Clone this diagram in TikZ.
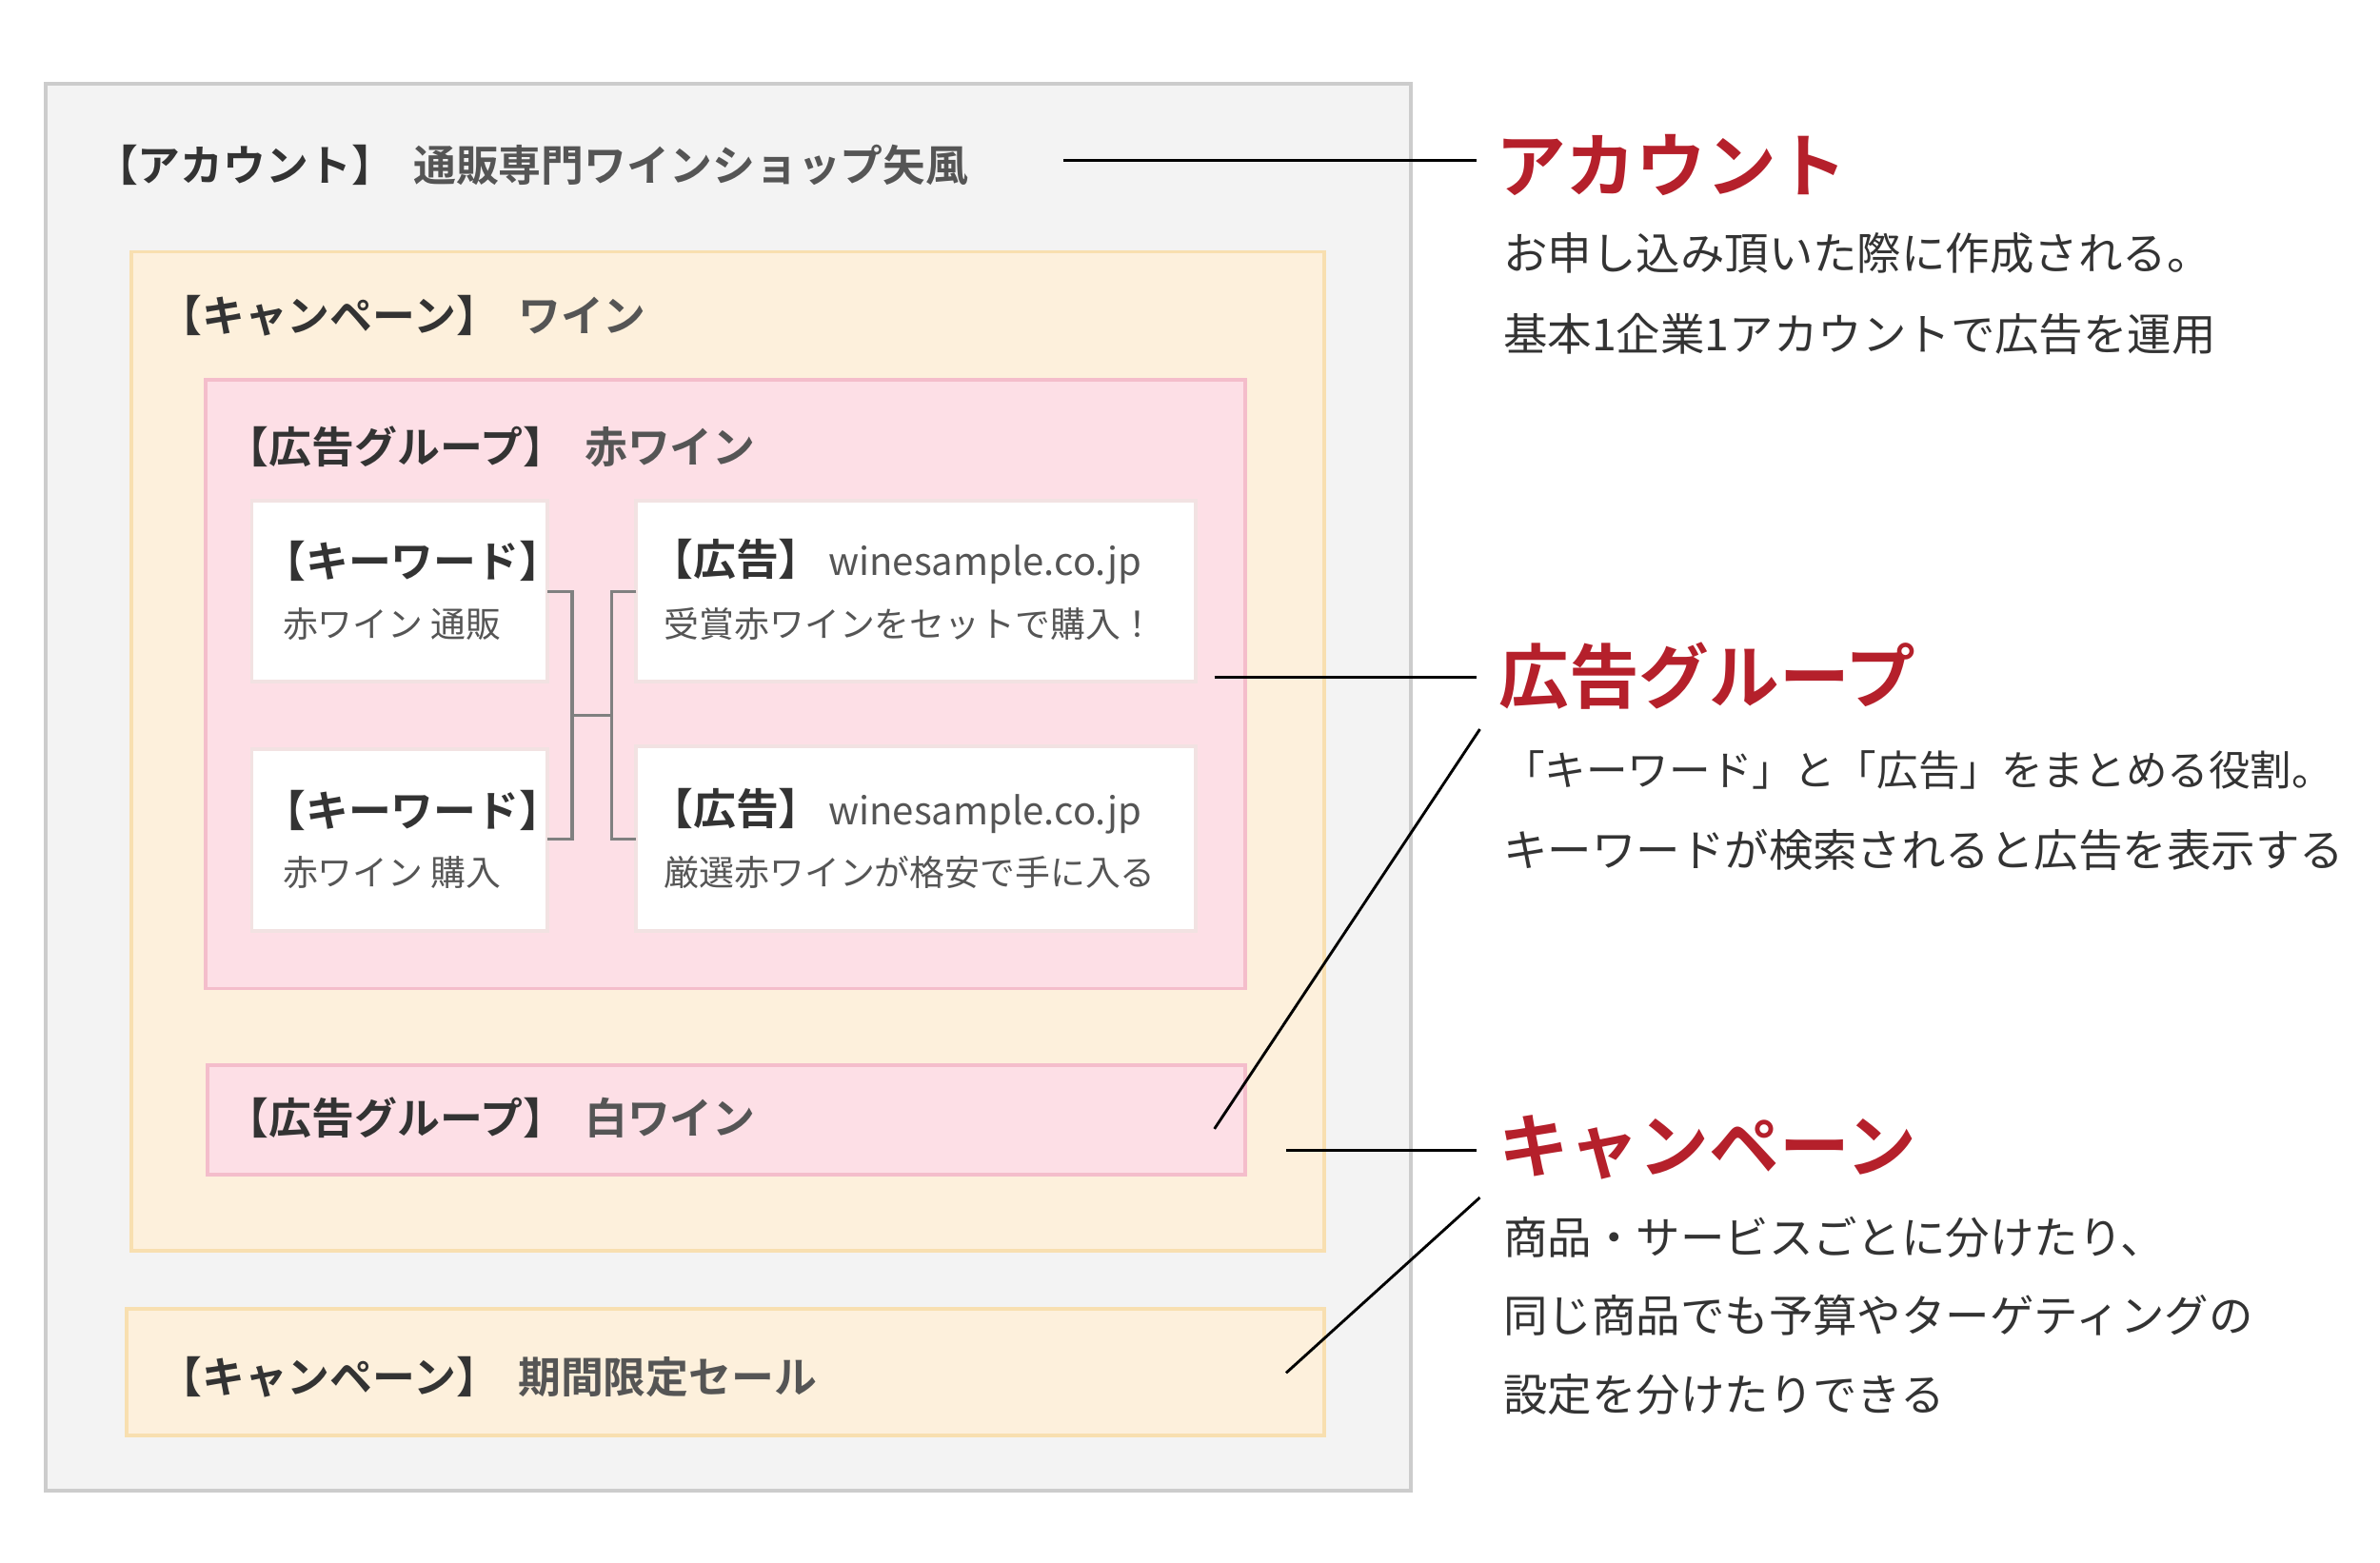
\documentclass[tikz,border=0pt]{standalone}
\usepackage{fontspec}
\setmainfont{Noto Sans CJK JP}
\newfontfamily\jpb{Noto Sans CJK JP Bold}
\definecolor{acc}{HTML}{F3F3F3}\definecolor{accb}{HTML}{CCCCCC}
\definecolor{cam}{HTML}{FDF0DC}\definecolor{camb}{HTML}{F8DFB0}
\definecolor{grp}{HTML}{FDDFE6}\definecolor{grpb}{HTML}{F4BDCB}
\definecolor{wb}{HTML}{F2E2E2}
\definecolor{red1}{HTML}{B5202B}\definecolor{tx}{HTML}{333333}\definecolor{tx2}{HTML}{555555}
\begin{document}
\begin{tikzpicture}[x=0.5pt,y=-0.5pt,
 box/.style={line width=1.2pt},
 lbl/.style={anchor=west,inner sep=0,text=tx,font=\fontsize{14}{16}\selectfont},
 sm/.style={anchor=west,inner sep=0,text=tx2,font=\fontsize{11.5}{14}\selectfont},
 head/.style={anchor=west,inner sep=0,text=red1,font=\jpb\fontsize{23}{26}\selectfont},
 body/.style={anchor=west,inner sep=0,text=tx,font=\fontsize{14.5}{16}\selectfont},
 ln/.style={line width=0.9pt,black},
 br/.style={line width=1pt,gray}]
\useasboundingbox (0,0) rectangle (1560,1024);
\fill[white] (0,0) rectangle (1560,1024);
\draw[box,fill=acc,draw=accb] (30,55) rectangle (925,977);
\draw[box,fill=cam,draw=camb] (86,165) rectangle (868,820);
\draw[box,fill=grp,draw=grpb] (135,249) rectangle (816,648);
\draw[box,fill=grp,draw=grpb] (136,698) rectangle (816,770);
\draw[box,fill=cam,draw=camb] (83,858) rectangle (868,941);
\foreach \a/\b/\c/\d in {165/328/359/447,165/491/359/610,417/328/784/447,417/489/784/610}
 \draw[box,fill=white,draw=wb] (\a,\b) rectangle (\c,\d);
\node[lbl] (ta) at (62,108) {{\jpb【アカウント】}\ \ {\jpb\color{tx2}通販専門ワインショップ矢風}};
\node[lbl] (tc1) at (104,207) {{\jpb【キャンペーン】}\ \ {\jpb\color{tx2}ワイン}};
\node[lbl] (tg1) at (148,293) {{\jpb【広告グループ】}\ \ {\jpb\color{tx2}赤ワイン}};
\node[lbl] (tg2) at (148,733) {{\jpb【広告グループ】}\ \ {\jpb\color{tx2}白ワイン}};
\node[lbl] (tc2) at (104,903) {{\jpb【キャンペーン】}\ \ {\jpb\color{tx2}期間限定セール}};
\node[lbl] at (172,368) {\jpb【キーワード】};
\node[sm] at (185,409) {赤ワイン 通販};
\node[lbl] at (172,531) {\jpb【キーワード】};
\node[sm] at (185,572) {赤ワイン 購入};
\node[lbl] at (426,368) {{\jpb【広告】}\,{\color{tx2}\fontsize{12.5}{14}\selectfont winesample.co.jp}};
\node[sm] at (435,409) {受賞赤ワインをセットで購入！};
\node[lbl] at (426,532) {{\jpb【広告】}\,{\color{tx2}\fontsize{12.5}{14}\selectfont winesample.co.jp}};
\node[sm] at (435,572) {厳選赤ワインが格安で手に入る};
\draw[br] (359,388) -- (375,388) -- (375,550) -- (359,550);
\draw[br] (375,469) -- (401,469);
\draw[br] (417,388) -- (401,388) -- (401,550) -- (417,550);
\node[head] (h1) at (980,108) {アカウント};
\node[body] at (985,166) {お申し込み頂いた際に作成される。};
\node[body] at (985,219) {基本1企業1アカウントで広告を運用};
\node[head] (h2) at (982,443) {広告グループ};
\node[body,font=\fontsize{13.6}{16}\selectfont] at (985,505) {「キーワード」と「広告」をまとめる役割。};
\node[body] at (985,557) {キーワードが検索されると広告を表示する};
\node[head] (h3) at (982,752) {キャンペーン};
\node[body] at (985,811) {商品・サービスごとに分けたり、};
\node[body] at (985,862) {同じ商品でも予算やターゲティングの};
\node[body] at (985,914) {設定を分けたりできる};
\coordinate (a1) at (697,105); \coordinate (b1) at (796,444);
\coordinate (b2) at (970,478); \coordinate (b3) at (796,740);
\coordinate (c1) at (843,754); \coordinate (c2) at (970,785); \coordinate (c3) at (843,900);
\draw[ln] (a1) -- (968,105);
\draw[ln] (b1) -- (968,444);
\draw[ln] (b2) -- (b3);
\draw[ln] (c1) -- (968,754);
\draw[ln] (c2) -- (c3);
\end{tikzpicture}
\end{document}
